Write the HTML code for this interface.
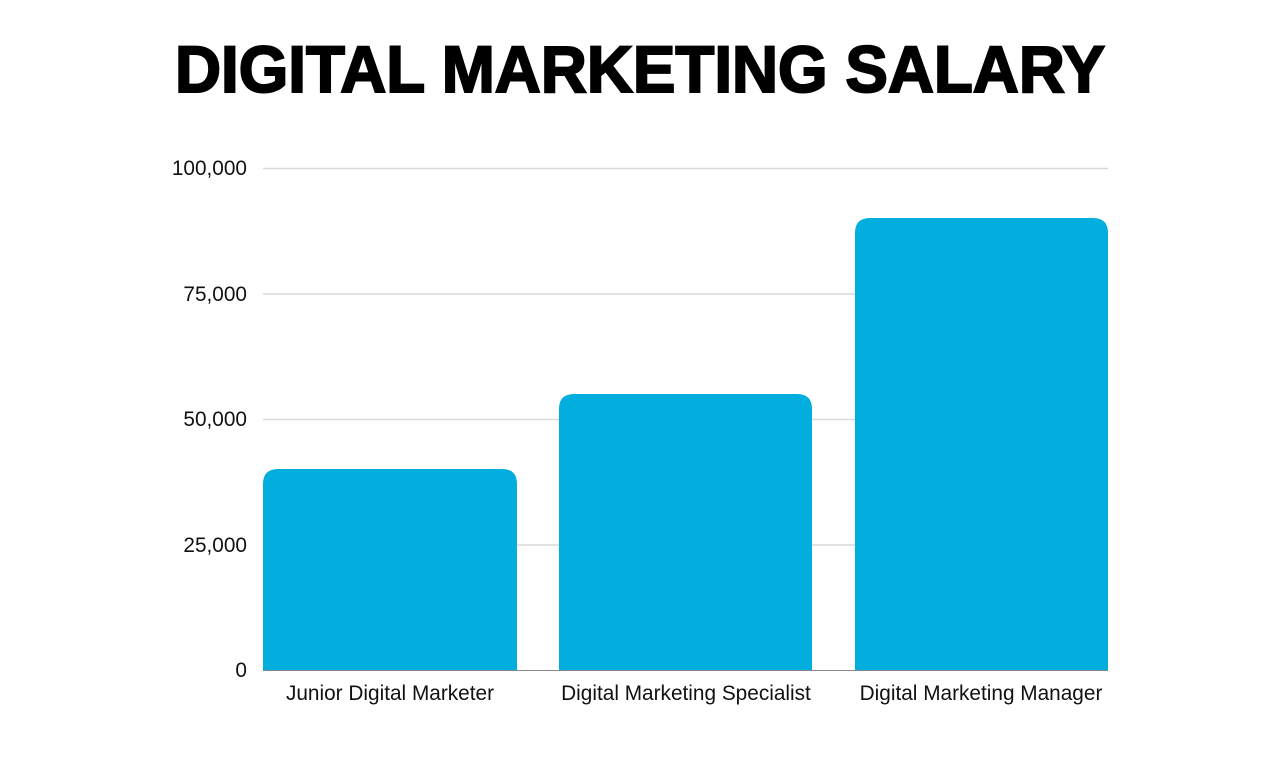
<!DOCTYPE html>
<html><head><style>
html,body{margin:0;padding:0;background:#fff;width:1280px;height:768px;overflow:hidden}
</style></head><body>
<svg width="1280" height="768" xmlns="http://www.w3.org/2000/svg" font-family="Liberation Sans, sans-serif">
<text x="640" y="92" text-anchor="middle" font-size="66" font-weight="bold" textLength="930" lengthAdjust="spacingAndGlyphs" fill="#000" stroke="#000" stroke-width="2">DIGITAL MARKETING SALARY</text>
<g stroke="#d9d9d9" stroke-width="1.5">
<line x1="263" x2="1108" y1="168.5" y2="168.5"/>
<line x1="263" x2="1108" y1="294" y2="294"/>
<line x1="263" x2="1108" y1="419.5" y2="419.5"/>
<line x1="263" x2="1108" y1="545" y2="545"/>
</g>
<g font-size="20.8" fill="#111" text-anchor="end">
<text x="247" y="175">100,000</text>
<text x="247" y="301">75,000</text>
<text x="247" y="426">50,000</text>
<text x="247" y="552">25,000</text>
<text x="247" y="677">0</text>
</g>
<g fill="#02aede">
<path d="M263 670 V484 Q263 469 278 469 H502 Q517 469 517 484 V670 Z"/>
<path d="M559 670 V409 Q559 394 574 394 H797 Q812 394 812 409 V670 Z"/>
<path d="M855 670 V233 Q855 218 870 218 H1093 Q1108 218 1108 233 V670 Z"/>
</g>
<line x1="263" x2="1108" y1="670.5" y2="670.5" stroke="#888" stroke-width="1"/>
<g font-size="20.8" fill="#111" text-anchor="middle">
<text x="390" y="700">Junior Digital Marketer</text>
<text x="686" y="700">Digital Marketing Specialist</text>
<text x="981" y="700">Digital Marketing Manager</text>
</g>
</svg>
</body></html>
